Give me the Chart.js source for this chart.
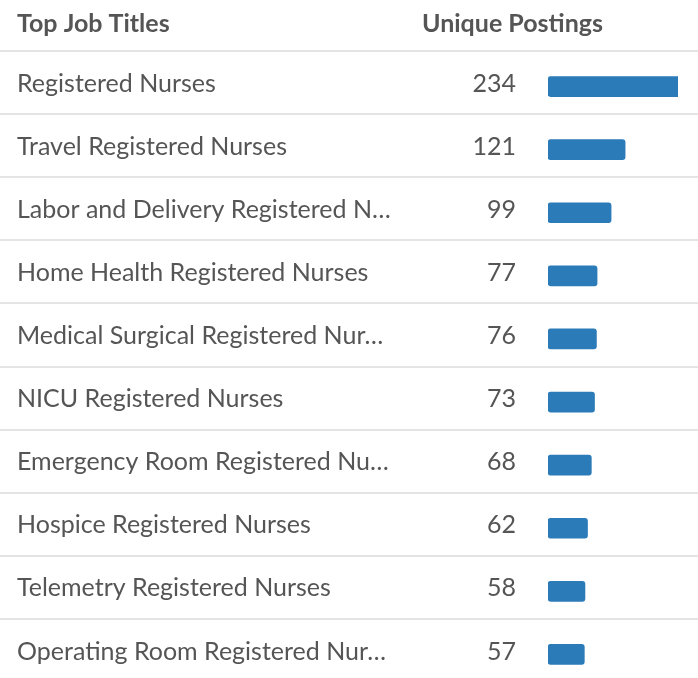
<!DOCTYPE html>
<html lang="en">
<head>
    <meta charset="UTF-8">
    <title>Top Job Titles</title>
    <script src="https://cdn.jsdelivr.net/npm/chart.js"></script>
    <style>
        body { margin: 0; overflow: hidden; background: #fff; }
        #wrap { width: 698px; height: 700px; }
    </style>
</head>
<body>
    <div id="wrap">
        <canvas id="jobChart" width="698" height="700"></canvas>
    </div>
    <script>
        const titles = [
            'Registered Nurses',
            'Travel Registered Nurses',
            'Labor and Delivery Registered N\u2026',
            'Home Health Registered Nurses',
            'Medical Surgical Registered Nur\u2026',
            'NICU Registered Nurses',
            'Emergency Room Registered Nu\u2026',
            'Hospice Registered Nurses',
            'Telemetry Registered Nurses',
            'Operating Room Registered Nur\u2026'
        ];
        const postings = [234, 121, 99, 77, 76, 73, 68, 62, 58, 57];
        const headers = ['Top Job Titles', 'Unique Postings'];

        const textColor = '#555555';
        const lineColor = '#e4e4e4';

        // header, row lines, titles and counts
        const tablePlugin = {
            id: 'tableText',
            beforeDatasetsDraw(chart) {
                const ctx = chart.ctx;
                const y = chart.scales.y;
                const rowH = y.getPixelForValue(1) - y.getPixelForValue(0);
                const shift = 3;
                ctx.save();
                ctx.fillStyle = lineColor;
                ctx.fillRect(0, 50, 698, 2);
                for (let i = 0; i < titles.length - 1; i++) {
                    const ly = y.getPixelForValue(i) + rowH / 2 - 4;
                    ctx.fillRect(0, Math.round(ly) - 1, 698, 2);
                }
                ctx.fillStyle = textColor;
                ctx.textBaseline = 'middle';
                ctx.font = 'bold 25px Lato';
                ctx.textAlign = 'left';
                ctx.fillText(headers[0], 17, 24);
                ctx.fillText(headers[1], 422, 24);
                ctx.font = '25px Lato';
                titles.forEach((t, i) => {
                    const cy = y.getPixelForValue(i) - shift;
                    ctx.textAlign = 'left';
                    ctx.fillText(t, 17, cy);
                    ctx.textAlign = 'right';
                    ctx.fillText(String(postings[i]), 516, cy);
                });
                ctx.restore();
            }
        };

        new Chart(document.getElementById('jobChart').getContext('2d'), {
            type: 'bar',
            data: {
                labels: titles,
                datasets: [{
                    data: postings,
                    backgroundColor: '#2b7bb9',
                    borderRadius: 3,
                    borderSkipped: false,
                    barThickness: 20,
                    clip: { left: 0, right: 0, top: false, bottom: false }
                }]
            },
            options: {
                indexAxis: 'y',
                responsive: false,
                animation: false,
                layout: { padding: { left: 548, right: 20, top: 55, bottom: 14 } },
                plugins: {
                    legend: { display: false },
                    tooltip: { enabled: false }
                },
                scales: {
                    x: { display: false, min: 0, max: 204 },
                    y: { display: false }
                }
            },
            plugins: [tablePlugin]
        });
    </script>
</body>
</html>
